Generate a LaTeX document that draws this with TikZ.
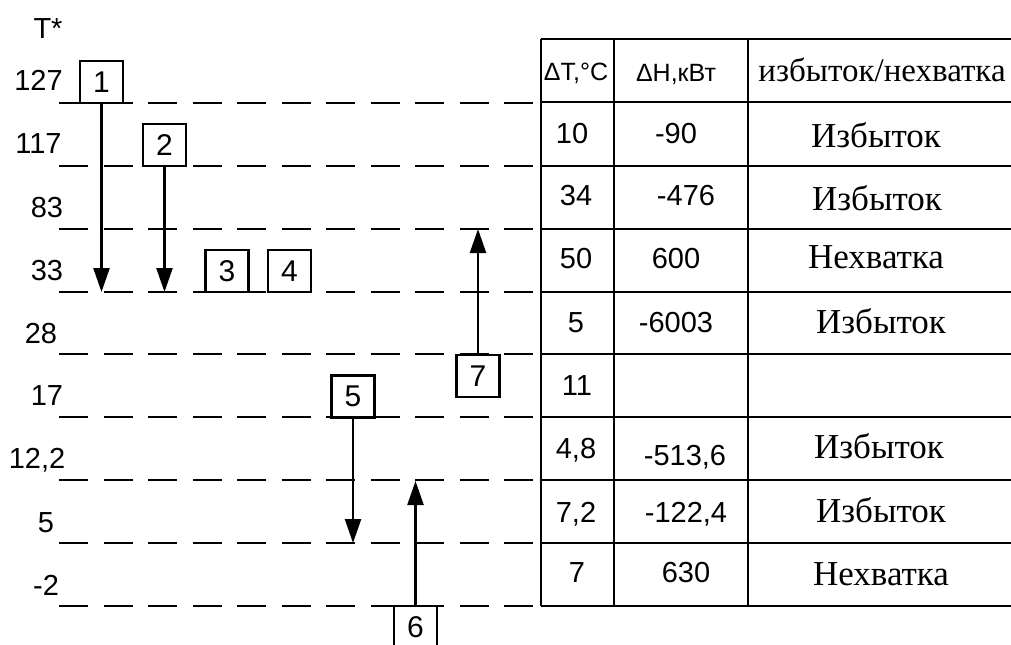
\documentclass[tikz,border=0pt]{standalone}
\usepackage{fontspec}
\setmainfont{Liberation Serif}
\newfontfamily\arialfont{Liberation Sans}
\usetikzlibrary{arrows.meta}

\begin{document}
\begin{tikzpicture}[x=0.5pt, y=-0.5pt, num/.style={anchor=base, inner sep=0, font=\arialfont\fontsize{14.5}{16}\selectfont}, word/.style={anchor=base, inner sep=0, font=\fontsize{17.5}{19}\selectfont}, head/.style={anchor=base, inner sep=0, font=\arialfont\fontsize{12.5}{14}\selectfont}, box node/.style={draw, line width=1.1pt, minimum width=21.5pt, minimum height=21pt, inner sep=0, font=\arialfont\fontsize{15}{16}\selectfont}, interval/.style={line width=1.3pt, dash pattern=on 14.5pt off 7.75pt}, table line/.style={line width=1.3pt}, flow/.style={line width=1.2pt, -{Triangle[width=8pt,length=12pt]}}]
\useasboundingbox (0,0) rectangle (1011,644);
% temperature scale
\node[num] (T) at (48,38) {T*};
\node[num] (t1) at (38.5,90) {127};
\node[num] (t2) at (38.5,153) {117};
\node[num] (t3) at (47,217) {83};
\node[num] (t4) at (47,280) {33};
\node[num] (t5) at (41,343) {28};
\node[num] (t6) at (47,405) {17};
\node[num] (t7) at (37,468) {12,2};
\node[num] (t8) at (46,532) {5};
\node[num] (t9) at (46,595) {-2};
\draw[interval] (59,103) -- (540,103);
\draw[interval] (59,166) -- (540,166);
\draw[interval] (59,229) -- (540,229);
\draw[interval] (59,292) -- (540,292);
\draw[interval] (59,354) -- (540,354);
\draw[interval] (59,417) -- (540,417);
\draw[interval] (59,480) -- (540,480);
\draw[interval] (59,543) -- (540,543);
\draw[interval] (59,606) -- (540,606);
% streams
\node[box node] (1) at (101.5,82) {1};
\node[box node] (2) at (164.5,145) {2};
\node[box node] (3) at (227,271) {3};
\node[box node] (4) at (289.5,271) {4};
\node[box node] (5) at (353,396.5) {5};
\node[box node] (6) at (415.5,627) {6};
\node[box node] (7) at (478,376) {7};
\coordinate (e1) at (101.5,292);
\coordinate (e2) at (164.5,292);
\coordinate (e5) at (353,543);
\coordinate (e6) at (415.5,481);
\coordinate (e7) at (478,229);
\path[flow]
(1) edge (e1)
(2) edge (e2)
(5) edge (e5)
(6) edge (e6)
(7) edge (e7);
% table
\draw[table line] (541,39) -- (541,606);
\draw[table line] (614,39) -- (614,606);
\draw[table line] (748,39) -- (748,606);
\draw[table line] (541,39) -- (1015,39);
\draw[table line] (541,102) -- (1015,102);
\draw[table line] (541,166) -- (1015,166);
\draw[table line] (541,229) -- (1015,229);
\draw[table line] (541,292) -- (1015,292);
\draw[table line] (541,354) -- (1015,354);
\draw[table line] (541,417) -- (1015,417);
\draw[table line] (541,480) -- (1015,480);
\draw[table line] (541,543) -- (1015,543);
\draw[table line] (541,606) -- (1015,606);
\node[head] (h1) at (576,80) {ΔT,°C};
\node[head] (h2) at (676,81) {ΔH,кВт};
\node[word, font=\fontsize{16.5}{19}\selectfont] (h3) at (882,81) {избыток/нехватка};
\node[num] (dt1) at (572,143) {10};
\node[num] (dt2) at (576,205) {34};
\node[num] (dt3) at (576,268) {50};
\node[num] (dt4) at (576,332) {5};
\node[num] (dt5) at (577,395) {11};
\node[num] (dt6) at (576,458) {4,8};
\node[num] (dt7) at (576,522) {7,2};
\node[num] (dt8) at (577,582) {7};
\node[num] (dh1) at (676,143) {-90};
\node[num] (dh2) at (686,205) {-476};
\node[num] (dh3) at (676,268) {600};
\node[num] (dh4) at (676,332) {-6003};
\node[num] (dh6) at (685,465) {-513,6};
\node[num] (dh7) at (686,522) {-122,4};
\node[num] (dh8) at (686,582) {630};
\node[word] (s1) at (876,147) {Избыток};
\node[word] (s2) at (877,210) {Избыток};
\node[word] (s3) at (876,268) {Нехватка};
\node[word] (s4) at (881,333) {Избыток};
\node[word] (s6) at (879,458) {Избыток};
\node[word] (s7) at (881,522) {Избыток};
\node[word] (s8) at (881,585) {Нехватка};
\end{tikzpicture}
\end{document}
